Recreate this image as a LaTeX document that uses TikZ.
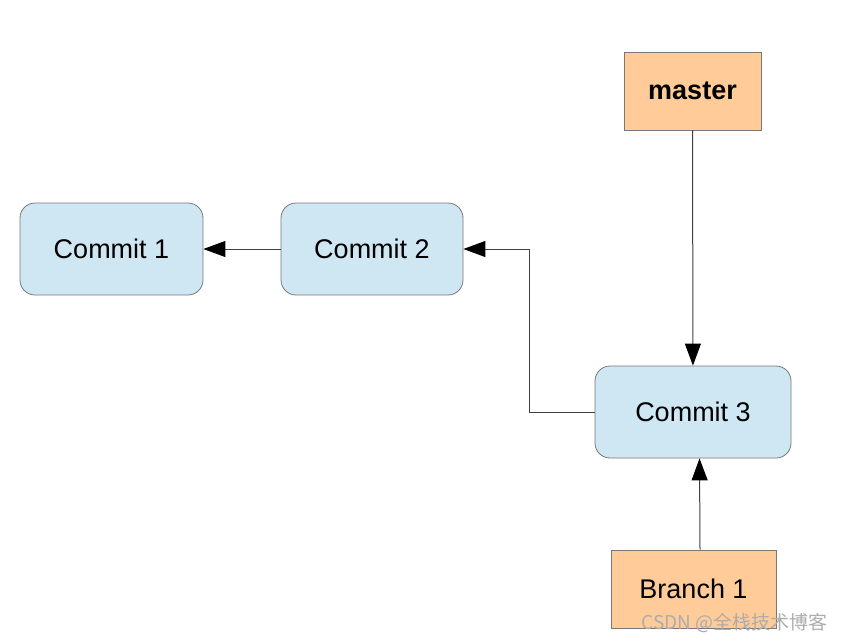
\documentclass[tikz,border=0pt]{standalone}
\usepackage{fontspec}
\setmainfont{Liberation Sans}
\newfontfamily\cjkfont{Noto Sans CJK SC}
\usetikzlibrary{arrows.meta}
\definecolor{commitblue}{RGB}{207,231,243}
\definecolor{refpeach}{RGB}{255,204,153}
\definecolor{edgegray}{RGB}{120,120,120}

\begin{document}
\begin{tikzpicture}[x=1pt, y=-1pt, >={Triangle[length=22pt,width=16pt,color=black]},
    commit/.style={draw=edgegray, line width=0.8pt, fill=commitblue, rounded corners=15pt,
      minimum width=183pt, minimum height=92pt, font=\fontsize{27}{32}\selectfont},
    branchref/.style={draw=edgegray, line width=0.8pt, fill=refpeach,
      minimum width=137pt, minimum height=78pt, font=\fontsize{27}{32}\selectfont},
    link/.style={->, line width=1pt, draw=black!75}]
  \useasboundingbox (0,0) rectangle (845,642);
  % commits
  \node[commit] (c1) at (111.5,249) {Commit 1};
  \node[commit, minimum width=182pt] (c2) at (372,249) {Commit 2};
  \node[commit, minimum width=196pt] (c3) at (693,412) {Commit 3};
  % references
  \node[branchref] (master) at (692.5,91) {\textbf{master}};
  \node[branchref, minimum width=165pt] (b1) at (693.5,589) {Branch 1};
  % parent links
  \draw[link] (c2) -- (c1);
  \draw[link] (c3.west) -- ++(-65,0) |- (c2.east);
  \draw[link] (master) -- (c3);
  \draw[link] ([xshift=6.5pt]b1.north) -- ([xshift=6.5pt]c3.south);
  % watermark
  \node[anchor=east, text=gray!65, font=\cjkfont\fontsize{19}{22}\selectfont] (mark) at (831,623) {CSDN @全栈技术博客};
\end{tikzpicture}
\end{document}
